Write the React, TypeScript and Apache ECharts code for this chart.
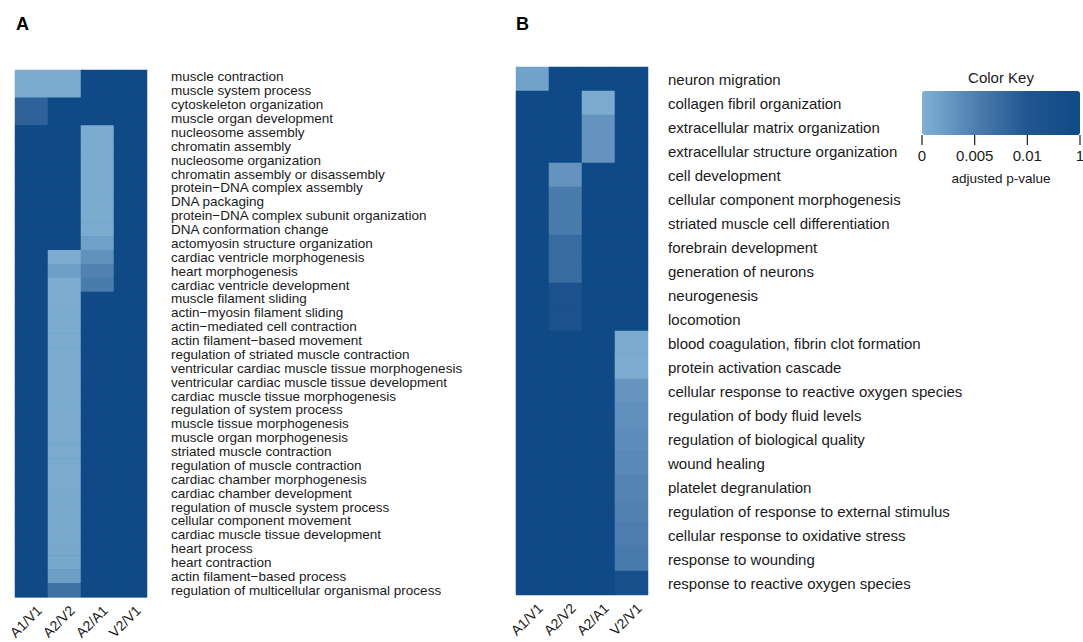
import React, { useEffect, useRef } from "react";
import * as echarts from "echarts";

const columns = ["A1/V1", "A2/V2", "A2/A1", "V2/V1"];

const termsA = [
  "muscle contraction",
  "muscle system process",
  "cytoskeleton organization",
  "muscle organ development",
  "nucleosome assembly",
  "chromatin assembly",
  "nucleosome organization",
  "chromatin assembly or disassembly",
  "protein\u2212DNA complex assembly",
  "DNA packaging",
  "protein\u2212DNA complex subunit organization",
  "DNA conformation change",
  "actomyosin structure organization",
  "cardiac ventricle morphogenesis",
  "heart morphogenesis",
  "cardiac ventricle development",
  "muscle filament sliding",
  "actin\u2212myosin filament sliding",
  "actin\u2212mediated cell contraction",
  "actin filament\u2212based movement",
  "regulation of striated muscle contraction",
  "ventricular cardiac muscle tissue morphogenesis",
  "ventricular cardiac muscle tissue development",
  "cardiac muscle tissue morphogenesis",
  "regulation of system process",
  "muscle tissue morphogenesis",
  "muscle organ morphogenesis",
  "striated muscle contraction",
  "regulation of muscle contraction",
  "cardiac chamber morphogenesis",
  "cardiac chamber development",
  "regulation of muscle system process",
  "cellular component movement",
  "cardiac muscle tissue development",
  "heart process",
  "heart contraction",
  "actin filament\u2212based process",
  "regulation of multicellular organismal process",
];

// adjusted p-values, panel A (one entry per term, top to bottom)
const pA_A1V1 = [
  0.0005, 0.0005, 0.0085, 0.0085, 1, 1, 1, 1, 1, 1, 1, 1, 1, 1, 1, 1, 1, 1, 1,
  1, 1, 1, 1, 1, 1, 1, 1, 1, 1, 1, 1, 1, 1, 1, 1, 1, 1, 1,
];
const pA_A2V2 = [
  0.0005, 0.0005, 1, 1, 1, 1, 1, 1, 1, 1, 1, 1, 1, 0.0004, 0.0018, 0.0004,
  0.0004, 0.0005, 0.0005, 0.0005, 0.0005, 0.0005, 0.0005, 0.0005, 0.0006,
  0.0006, 0.0006, 0.0006, 0.0006, 0.0006, 0.0007, 0.0007, 0.0007, 0.0007,
  0.0008, 0.0009, 0.0018, 0.0068,
];
const pA_A2A1 = [
  1, 1, 1, 1, 0.0005, 0.0005, 0.0005, 0.0005, 0.0005, 0.0005, 0.0005, 0.0005,
  0.0017, 0.0032, 0.0048, 0.0055, 1, 1, 1, 1, 1, 1, 1, 1, 1, 1, 1, 1, 1, 1, 1,
  1, 1, 1, 1, 1, 1, 1,
];
const pA_V2V1 = [
  1, 1, 1, 1, 1, 1, 1, 1, 1, 1, 1, 1, 1, 1, 1, 1, 1, 1, 1, 1, 1, 1, 1, 1, 1, 1,
  1, 1, 1, 1, 1, 1, 1, 1, 1, 1, 1, 1,
];

const termsB = [
  "neuron migration",
  "collagen fibril organization",
  "extracellular matrix organization",
  "extracellular structure organization",
  "cell development",
  "cellular component morphogenesis",
  "striated muscle cell differentiation",
  "forebrain development",
  "generation of neurons",
  "neurogenesis",
  "locomotion",
  "blood coagulation, fibrin clot formation",
  "protein activation cascade",
  "cellular response to reactive oxygen species",
  "regulation of body fluid levels",
  "regulation of biological quality",
  "wound healing",
  "platelet degranulation",
  "regulation of response to external stimulus",
  "cellular response to oxidative stress",
  "response to wounding",
  "response to reactive oxygen species",
];

// adjusted p-values, panel B
const pB_A1V1 = [
  0.0015, 1, 1, 1, 1, 1, 1, 1, 1, 1, 1, 1, 1, 1, 1, 1, 1, 1, 1, 1, 1, 1,
];
const pB_A2V2 = [
  1, 1, 1, 1, 0.003, 0.0055, 0.0055, 0.0075, 0.0075, 0.3, 0.3, 1, 1, 1, 1, 1,
  1, 1, 1, 1, 1, 1,
];
const pB_A2A1 = [
  1, 0.0006, 0.003, 0.003, 1, 1, 1, 1, 1, 1, 1, 1, 1, 1, 1, 1, 1, 1, 1, 1, 1, 1,
];
const pB_V2V1 = [
  1, 1, 1, 1, 1, 1, 1, 1, 1, 1, 1, 0.0006, 0.0004, 0.0028, 0.0033, 0.0036,
  0.004, 0.0045, 0.0048, 0.0053, 0.0056, 0.5,
];

const keyBreaks = [0, 0.005, 0.01, 1];
const keyLabels = ["0", "0.005", "0.01", "1"];
const keyColors = ["#80b1d3", "#4f7fb0", "#20568f", "#0f4a87"];

// position of a p-value on the colour key (breaks evenly spaced)
function keyPos(p: number): number {
  for (let i = 0; i < keyBreaks.length - 1; i++) {
    const a = keyBreaks[i];
    const b = keyBreaks[i + 1];
    if (p <= b) return i + (p - a) / (b - a);
  }
  return keyBreaks.length - 1;
}

function buildData(cols: number[][]) {
  const out: number[][] = [];
  cols.forEach((col, c) => {
    col.forEach((p, r) => out.push([c, r, keyPos(p)]));
  });
  return out;
}

const FONT = "'Liberation Sans', Arial, Helvetica, sans-serif";

export default function App() {
  const ref = useRef<HTMLDivElement>(null);
  useEffect(() => {
    if (!ref.current) return;
    const chart = echarts.init(ref.current, undefined, { renderer: "svg" });
    const dataA = buildData([pA_A1V1, pA_A2V2, pA_A2A1, pA_V2V1]);
    const dataB = buildData([pB_A1V1, pB_A2V2, pB_A2A1, pB_V2V1]);

    const keyLeft = 922;
    const keyTop = 91;
    const keyW = 158;
    const keyH = 44;

    const xAxisCommon = {
      type: "category" as const,
      data: columns,
      position: "bottom" as const,
      axisLine: { show: false },
      axisTick: { show: false },
      splitLine: { show: false },
      axisLabel: {
        rotate: 45,
        interval: 0,
        margin: 3,
        padding: [4, 0, 0, 0],
        verticalAlign: "top" as const,
        fontSize: 14,
        color: "#1a1a1a",
        fontFamily: FONT,
      },
    };
    const yAxisCommon = (terms: string[], margin: number, fontSize: number) => ({
      type: "category" as const,
      data: terms,
      inverse: true,
      position: "right" as const,
      axisLine: { show: false },
      axisTick: { show: false },
      splitLine: { show: false },
      axisLabel: {
        interval: 0,
        margin,
        align: "left" as const,
        fontSize,
        color: "#1a1a1a",
        fontFamily: FONT,
      },
    });

    const graphics: any[] = [
      {
        type: "text",
        left: 16,
        top: 15,
        style: { text: "A", fontSize: 18, fontWeight: "bold", fontFamily: FONT, fill: "#000" },
      },
      {
        type: "text",
        left: 516,
        top: 15,
        style: { text: "B", fontSize: 18, fontWeight: "bold", fontFamily: FONT, fill: "#000" },
      },
      {
        type: "text",
        x: keyLeft + keyW / 2,
        y: 77,
        style: {
          text: "Color Key",
          fontSize: 15,
          fontFamily: FONT,
          fill: "#1a1a1a",
          align: "center",
          verticalAlign: "middle",
        },
      },
      {
        type: "text",
        x: keyLeft + keyW / 2,
        y: 178,
        style: {
          text: "adjusted p-value",
          fontSize: 13.5,
          fontFamily: FONT,
          fill: "#1a1a1a",
          align: "center",
          verticalAlign: "middle",
        },
      },
    ];
    keyLabels.forEach((lab, i) => {
      const x = keyLeft + (keyW * i) / (keyLabels.length - 1);
      graphics.push({
        type: "line",
        shape: { x1: x, y1: keyTop + keyH, x2: x, y2: keyTop + keyH + 10 },
        style: { stroke: "#1a1a1a", lineWidth: 1.2 },
      });
      graphics.push({
        type: "text",
        x,
        y: 155,
        style: {
          text: lab,
          fontSize: 15,
          fontFamily: FONT,
          fill: "#1a1a1a",
          align: "center",
          verticalAlign: "middle",
        },
      });
    });

    const darkest = keyColors[keyColors.length - 1];

    chart.setOption({
      animation: false,
      backgroundColor: "#ffffff",
      grid: [
        {
          left: 15,
          top: 70,
          width: 132,
          height: 532,
          show: true,
          backgroundColor: darkest,
          borderWidth: 0,
        },
        {
          left: 516,
          top: 67,
          width: 132,
          height: 528,
          show: true,
          backgroundColor: darkest,
          borderWidth: 0,
        },
      ],
      xAxis: [
        { ...xAxisCommon, gridIndex: 0 },
        { ...xAxisCommon, gridIndex: 1 },
      ],
      yAxis: [
        { ...yAxisCommon(termsA, 24, 13.5), gridIndex: 0 },
        { ...yAxisCommon(termsB, 20, 15), gridIndex: 1 },
      ],
      visualMap: {
        type: "continuous",
        show: true,
        min: 0,
        max: keyBreaks.length - 1,
        orient: "horizontal",
        left: keyLeft,
        top: keyTop,
        itemWidth: keyH,
        itemHeight: keyW,
        padding: 0,
        calculable: false,
        hoverLink: false,
        seriesIndex: [0, 1],
        inRange: { color: keyColors },
      },
      series: [
        {
          type: "heatmap",
          xAxisIndex: 0,
          yAxisIndex: 0,
          data: dataA,
          itemStyle: { borderWidth: 0 },
          emphasis: { disabled: true },
        },
        {
          type: "heatmap",
          xAxisIndex: 1,
          yAxisIndex: 1,
          data: dataB,
          itemStyle: { borderWidth: 0 },
          emphasis: { disabled: true },
        },
      ],
      graphic: graphics,
    });
    return () => chart.dispose();
  }, []);
  return (
    <div
      ref={ref}
      style={{ position: "fixed", left: 0, top: 0, width: 1083, height: 642 }}
    />
  );
}
